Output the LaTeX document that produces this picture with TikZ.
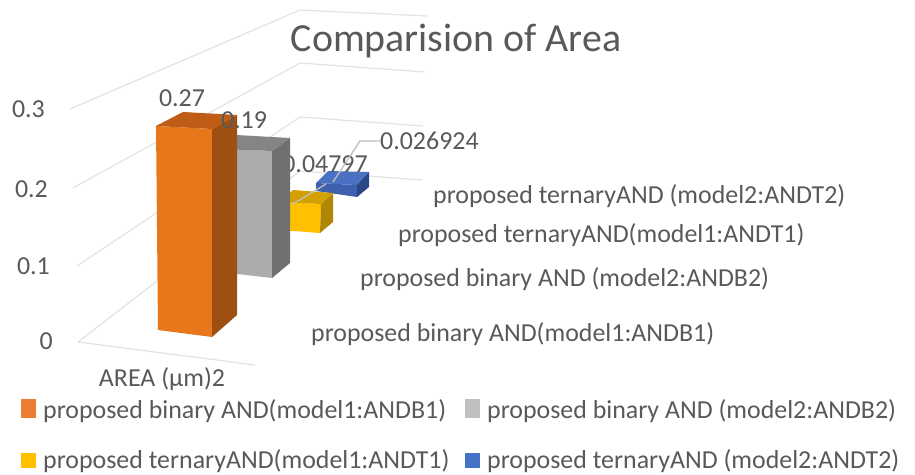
\documentclass[tikz,border=0pt]{standalone}
\usepackage{fontspec}
\setmainfont{Carlito}
\definecolor{txt}{HTML}{595959}
\definecolor{gridc}{HTML}{E3E3E3}
\definecolor{leader}{HTML}{BFBFBF}
% bar colours: front, side, top
\definecolor{orF}{HTML}{E8771C}
\definecolor{orS}{HTML}{A04F13}
\definecolor{orT}{HTML}{BF5C16}
\definecolor{grF}{HTML}{ADABAB}
\definecolor{grS}{HTML}{72706F}
\definecolor{grT}{HTML}{868484}
\definecolor{yeF}{HTML}{FFC000}
\definecolor{yeS}{HTML}{B08705}
\definecolor{yeT}{HTML}{D3A002}
\definecolor{blF}{HTML}{3F60AE}
\definecolor{blS}{HTML}{2B4586}
\definecolor{blT}{HTML}{4A71C2}
\definecolor{orL}{HTML}{ED7D31}
\definecolor{grL}{HTML}{BFBFBF}
\definecolor{yeL}{HTML}{FFC000}
\definecolor{blL}{HTML}{4472C4}
\begin{document}
\begin{tikzpicture}[x=1bp,y=-1bp,
  lbl/.style={text=txt, font=\fontsize{26}{30}\selectfont, inner sep=0pt},
  ttl/.style={text=txt, font=\fontsize{40}{46}\selectfont, inner sep=0pt},
  grid/.style={draw=gridc, line width=1.2bp},
  leadline/.style={draw=leader, line width=1.3bp},
  keytall/.style={minimum width=15bp, minimum height=19bp, inner sep=0pt, anchor=south west},
  key/.style={minimum size=15bp, inner sep=0pt, anchor=south west}]
\useasboundingbox (0,0) rectangle (915,475);
\fill[white] (0,0) rectangle (915,475);

% walls and floor gridlines
\draw[grid] (70,109) -- (300,10) -- (427,16);
\draw[grid] (73,188) -- (300,63) -- (425,72);
\draw[grid] (77,266) -- (300,117) -- (423,126);
\draw[grid] (78,342) -- (300,171) -- (422,180);
\draw[grid] (78,342) -- (255,365);

% value axis
\node[lbl, anchor=base east] (y3) at (45,118) {0.3};
\node[lbl, anchor=base east] (y2) at (48,198) {0.2};
\node[lbl, anchor=base east] (y1) at (50,275) {0.1};
\node[lbl, anchor=base east] (y0) at (53,350) {0};

% title
\node[ttl, anchor=base] (title) at (456,52) {Comparision of Area};

% series ANDT2 (blue, back row)
\fill[blT] (316,183) -- (357,185) -- (369,172) -- (328,171) -- cycle;
\fill[blF] (316,183) -- (357,185) -- (357,197) -- (316,191) -- cycle;
\fill[blS] (357,185) -- (369,172) -- (369,187) -- (357,197) -- cycle;
% series ANDT1 (yellow)
\fill[yeF] (280,202) -- (321,204) -- (320,233) -- (280,230) -- cycle;
\fill[yeS] (321,204) -- (333,193) -- (333,222) -- (320,233) -- cycle;
\fill[yeT] (280,202) -- (321,204) -- (333,193) -- (293,190) -- cycle;

% label of the yellow bar sits behind the grey bar
\node[lbl, anchor=base] (v3) at (325,173) {0.04797};
\coordinate (p3) at (293,204);
\coordinate (q3) at (326,184);
\draw[leadline] (p3) -- (q3);

% series ANDB2 (grey)
\fill[grF] (219,149) -- (272,151) -- (272,278) -- (220,272) -- cycle;
\fill[grS] (272,151) -- (290,138) -- (290,263) -- (272,278) -- cycle;
\fill[grT] (219,149) -- (272,151) -- (290,138) -- (236,135) -- cycle;
% series ANDB1 (orange, front row)
\fill[orF] (156,126) -- (212,129) -- (212,337) -- (158,330) -- cycle;
\fill[orS] (212,129) -- (237,115) -- (237,315) -- (212,337) -- cycle;
\fill[orT] (156,126) -- (212,129) -- (237,115) -- (183,112) -- cycle;

% data labels
\node[lbl, anchor=base] (v1) at (182,107) {0.27};
\node[lbl, anchor=base] (v2) at (244,129) {0.19};
\node[lbl, anchor=base west] (v4) at (380,150) {0.026924};
\coordinate (p4) at (333,182);
\coordinate (k4) at (360,141);
\draw[leadline] (p4) -- (k4) -- (v4.west |- k4);

% depth axis labels
\node[lbl, anchor=base west] (s4) at (433,204) {proposed ternaryAND (model2:ANDT2)};
\node[lbl, anchor=base west] (s3) at (398,243) {proposed ternaryAND(model1:ANDT1)};
\node[lbl, anchor=base west] (s2) at (360,287) {proposed binary AND (model2:ANDB2)};
\node[lbl, anchor=base west] (s1) at (311,342) {proposed binary AND(model1:ANDB1)};

% category axis label
\node[lbl, anchor=base] (cat) at (162,387) {AREA (μm)2};

% legend
\node[keytall, fill=orL] (k1) at (21,418) {};
\node[lbl, anchor=base west] (l1) at (43,418) {proposed binary AND(model1:ANDB1)};
\node[keytall, fill=grL] (k2) at (465,418) {};
\node[lbl, anchor=base west] (l2) at (487,418) {proposed binary AND (model2:ANDB2)};
\node[key, fill=yeL] (k3) at (21,468) {};
\node[lbl, anchor=base west] (l3) at (43,468) {proposed ternaryAND(model1:ANDT1)};
\node[key, fill=blL] (k4k) at (465,468) {};
\node[lbl, anchor=base west] (l4) at (487,468) {proposed ternaryAND (model2:ANDT2)};
\end{tikzpicture}
\end{document}
